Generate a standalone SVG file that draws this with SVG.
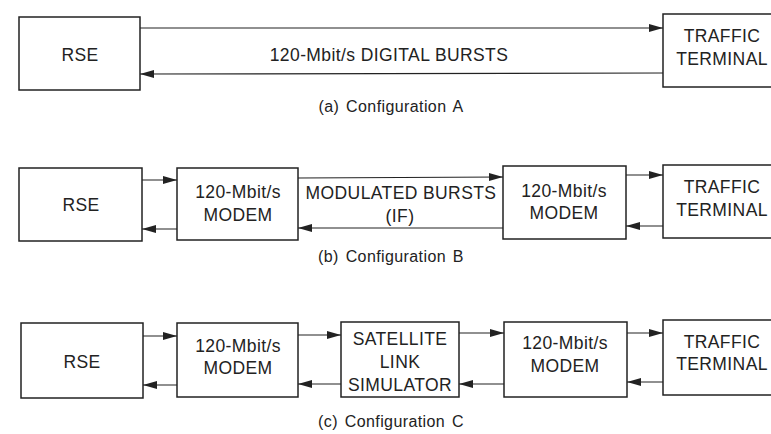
<svg xmlns="http://www.w3.org/2000/svg" width="771" height="434" viewBox="0 0 771 434">
<defs>
<style>
.box{fill:#fff;stroke:#222;stroke-width:1.5}
.ln{stroke:#222;stroke-width:1.2;fill:none}
text{font-family:"Liberation Sans",Arial,sans-serif;font-size:17.5px;fill:#222;text-anchor:middle;letter-spacing:0.4px}
.cap{font-size:16px;word-spacing:2px}
</style>
<marker id="ah" markerWidth="16" markerHeight="10" refX="14" refY="5" orient="auto" markerUnits="userSpaceOnUse">
<path d="M0,1 L14,5 L0,9 Z" fill="#222"/>
</marker>
</defs>
<rect width="771" height="434" fill="#fff"/>

<g id="connectors">
<line class="ln" x1="140" y1="28" x2="663" y2="28" marker-end="url(#ah)"/>
<line class="ln" x1="663" y1="73" x2="140" y2="74" marker-end="url(#ah)"/>

<line class="ln" x1="142" y1="180" x2="177" y2="180" marker-end="url(#ah)"/>
<line class="ln" x1="177" y1="229" x2="142" y2="229" marker-end="url(#ah)"/>
<line class="ln" x1="298" y1="178" x2="503" y2="177" marker-end="url(#ah)"/>
<line class="ln" x1="503" y1="228" x2="298" y2="228" marker-end="url(#ah)"/>
<line class="ln" x1="626" y1="175" x2="663" y2="175" marker-end="url(#ah)"/>
<line class="ln" x1="663" y1="226" x2="626" y2="226" marker-end="url(#ah)"/>

<line class="ln" x1="143" y1="336" x2="177" y2="336" marker-end="url(#ah)"/>
<line class="ln" x1="177" y1="385" x2="143" y2="385" marker-end="url(#ah)"/>
<line class="ln" x1="298" y1="335" x2="341" y2="335" marker-end="url(#ah)"/>
<line class="ln" x1="341" y1="384" x2="298" y2="384" marker-end="url(#ah)"/>
<line class="ln" x1="459" y1="333" x2="504" y2="333" marker-end="url(#ah)"/>
<line class="ln" x1="504" y1="384" x2="459" y2="384" marker-end="url(#ah)"/>
<line class="ln" x1="627" y1="333" x2="663" y2="333" marker-end="url(#ah)"/>
<line class="ln" x1="663" y1="382" x2="627" y2="382" marker-end="url(#ah)"/>
</g>

<g id="a-rse"><rect class="box" x="19" y="17" width="121" height="73"/><text x="80" y="61">RSE</text></g>
<g id="a-traffic"><rect class="box" x="663" y="14" width="120" height="73"/><text x="722" y="42">TRAFFIC</text><text x="722" y="65">TERMINAL</text></g>
<g id="a-label"><text x="389" y="61">120-Mbit/s DIGITAL BURSTS</text></g>
<text class="cap" x="391" y="112">(a) Configuration A</text>

<g id="b-rse"><rect class="box" x="19" y="168" width="123" height="73"/><text x="81" y="211">RSE</text></g>
<g id="b-modem1"><rect class="box" x="177" y="168" width="121" height="72"/><text x="238" y="198">120-Mbit/s</text><text x="238" y="221">MODEM</text></g>
<g id="b-modem2"><rect class="box" x="503" y="166" width="123" height="73"/><text x="564" y="197">120-Mbit/s</text><text x="564" y="219">MODEM</text></g>
<g id="b-traffic"><rect class="box" x="663" y="165" width="120" height="73"/><text x="722" y="193">TRAFFIC</text><text x="722" y="216">TERMINAL</text></g>
<g id="b-label"><text x="401" y="199">MODULATED BURSTS</text><text x="400" y="222">(IF)</text></g>
<text class="cap" x="391" y="262">(b) Configuration B</text>

<g id="c-rse"><rect class="box" x="21" y="323" width="122" height="75"/><text x="82" y="368">RSE</text></g>
<g id="c-modem1"><rect class="box" x="177" y="323" width="121" height="74"/><text x="238" y="352">120-Mbit/s</text><text x="238" y="374">MODEM</text></g>
<g id="c-satellite"><rect class="box" x="341" y="322" width="118" height="75"/><text x="400" y="345">SATELLITE</text><text x="400" y="368">LINK</text><text x="400" y="391">SIMULATOR</text></g>
<g id="c-modem2"><rect class="box" x="504" y="322" width="123" height="75"/><text x="565" y="349">120-Mbit/s</text><text x="565" y="372">MODEM</text></g>
<g id="c-traffic"><rect class="box" x="663" y="320" width="120" height="75"/><text x="722" y="348">TRAFFIC</text><text x="722" y="370">TERMINAL</text></g>
<text class="cap" x="391" y="427">(c) Configuration C</text>
</svg>
